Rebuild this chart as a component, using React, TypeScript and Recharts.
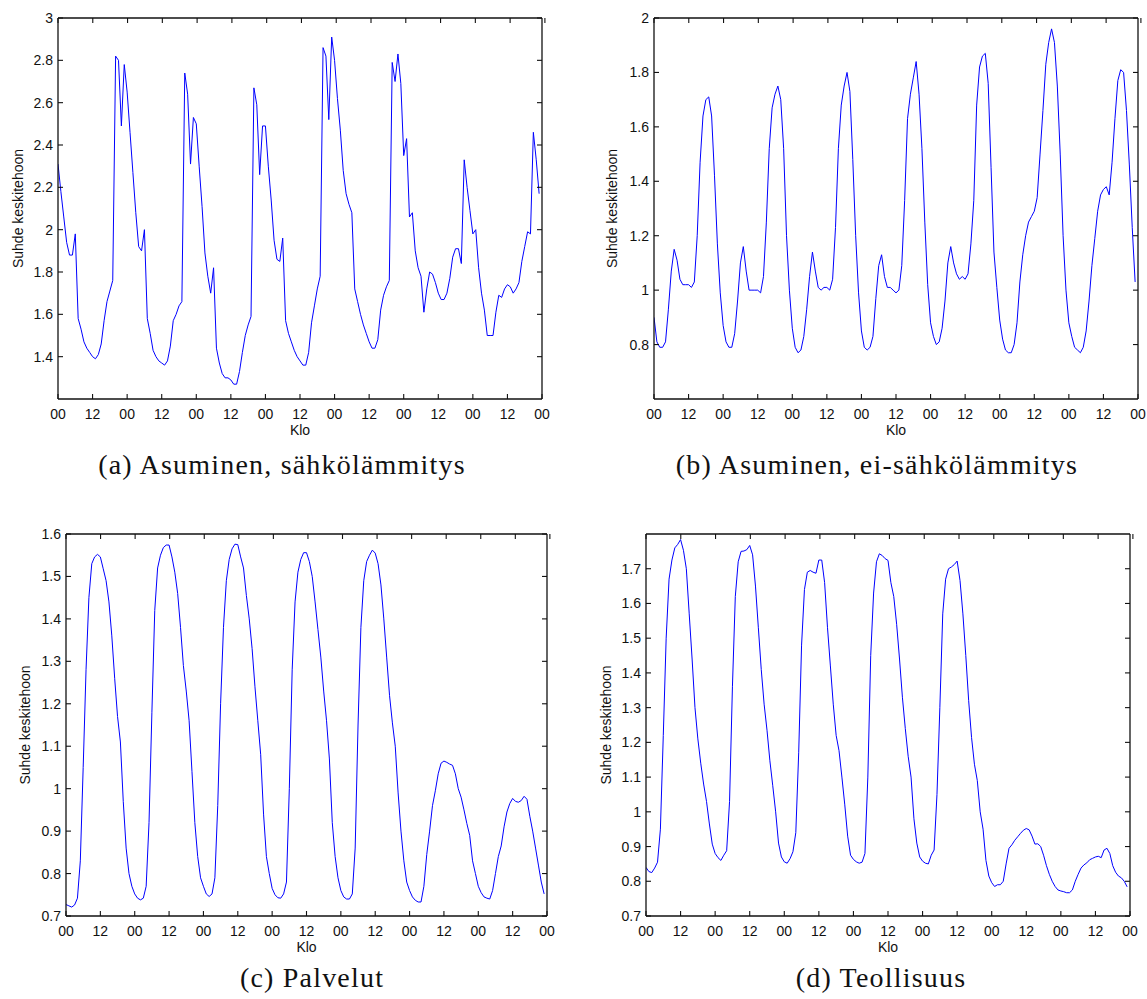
import { LineChart, Line, XAxis, YAxis } from 'recharts';

// hourly load ratio to mean power, one week (168 h) per sector
const aValues = [
  2.31, 2.18, 2.06, 1.94, 1.88, 1.88, 1.98, 1.58, 1.53, 1.47,
  1.44, 1.42, 1.40, 1.39, 1.41, 1.46, 1.57, 1.66, 1.71, 1.76,
  2.82, 2.80, 2.49, 2.78, 2.65, 2.46, 2.27, 2.08, 1.92, 1.90,
  2.00, 1.58, 1.51, 1.43, 1.40, 1.38, 1.37, 1.36, 1.38, 1.45,
  1.57, 1.60, 1.64, 1.66, 2.74, 2.64, 2.31, 2.53, 2.50, 2.30,
  2.11, 1.89, 1.78, 1.70, 1.82, 1.44, 1.37, 1.32, 1.30, 1.30,
  1.29, 1.27, 1.27, 1.33, 1.42, 1.50, 1.55, 1.59, 2.67, 2.59,
  2.26, 2.49, 2.49, 2.30, 2.14, 1.95, 1.86, 1.85, 1.96, 1.57,
  1.51, 1.47, 1.43, 1.40, 1.38, 1.36, 1.36, 1.42, 1.56, 1.64,
  1.72, 1.78, 2.86, 2.82, 2.52, 2.91, 2.80, 2.62, 2.47, 2.28,
  2.17, 2.12, 2.08, 1.72, 1.66, 1.60, 1.55, 1.51, 1.47, 1.44,
  1.44, 1.48, 1.62, 1.69, 1.73, 1.76, 2.79, 2.70, 2.83, 2.69,
  2.35, 2.43, 2.06, 2.08, 1.90, 1.82, 1.78, 1.61, 1.72, 1.80,
  1.79, 1.75, 1.70, 1.67, 1.67, 1.70, 1.77, 1.87, 1.91, 1.91,
  1.84, 2.33, 2.20, 2.09, 1.98, 2.00, 1.82, 1.70, 1.62, 1.50,
  1.50, 1.50, 1.61, 1.69, 1.68, 1.72, 1.74, 1.73, 1.70, 1.72,
  1.75, 1.85, 1.92, 1.99, 1.98, 2.46, 2.33, 2.17,
];

const bValues = [
  0.90, 0.81, 0.79, 0.79, 0.81, 0.93, 1.07, 1.15, 1.11, 1.04,
  1.02, 1.02, 1.02, 1.01, 1.03, 1.20, 1.47, 1.64, 1.70, 1.71,
  1.64, 1.42, 1.17, 0.99, 0.87, 0.81, 0.79, 0.79, 0.84, 0.96,
  1.10, 1.16, 1.07, 1.00, 1.00, 1.00, 1.00, 0.99, 1.05, 1.25,
  1.52, 1.67, 1.72, 1.75, 1.70, 1.52, 1.20, 1.00, 0.86, 0.79,
  0.77, 0.78, 0.83, 0.93, 1.05, 1.14, 1.07, 1.01, 1.00, 1.01,
  1.01, 1.00, 1.04, 1.23, 1.52, 1.68, 1.75, 1.80, 1.73, 1.48,
  1.20, 0.99, 0.85, 0.79, 0.78, 0.79, 0.83, 0.97, 1.09, 1.13,
  1.05, 1.01, 1.01, 1.00, 0.99, 1.00, 1.09, 1.33, 1.63, 1.72,
  1.78, 1.84, 1.72, 1.52, 1.25, 1.02, 0.88, 0.83, 0.80, 0.81,
  0.86, 0.96, 1.10, 1.16, 1.10, 1.06, 1.04, 1.05, 1.04, 1.06,
  1.17, 1.33, 1.68, 1.82, 1.86, 1.87, 1.76, 1.45, 1.14, 1.01,
  0.89, 0.82, 0.78, 0.77, 0.77, 0.80, 0.88, 1.03, 1.13, 1.20,
  1.25, 1.27, 1.29, 1.34, 1.50, 1.66, 1.83, 1.91, 1.96, 1.91,
  1.75, 1.50, 1.20, 1.00, 0.88, 0.83, 0.79, 0.78, 0.77, 0.79,
  0.85, 0.96, 1.09, 1.19, 1.29, 1.35, 1.37, 1.38, 1.35, 1.47,
  1.63, 1.77, 1.81, 1.80, 1.66, 1.46, 1.23, 1.03,
];

const cValues = [
  0.727, 0.724, 0.721, 0.726, 0.742, 0.83, 1.05, 1.28, 1.45, 1.53,
  1.546, 1.552, 1.546, 1.518, 1.49, 1.44, 1.36, 1.26, 1.17, 1.11,
  0.97, 0.86, 0.80, 0.77, 0.752, 0.742, 0.738, 0.742, 0.77, 0.92,
  1.18, 1.42, 1.52, 1.55, 1.568, 1.574, 1.574, 1.546, 1.51, 1.46,
  1.38, 1.29, 1.23, 1.16, 1.04, 0.92, 0.84, 0.79, 0.77, 0.752,
  0.746, 0.752, 0.79, 0.96, 1.20, 1.38, 1.49, 1.54, 1.565, 1.576,
  1.575, 1.546, 1.52, 1.455, 1.40, 1.33, 1.24, 1.16, 1.08, 0.94,
  0.84, 0.80, 0.765, 0.75, 0.743, 0.742, 0.752, 0.78, 1.00, 1.28,
  1.44, 1.51, 1.54, 1.556, 1.556, 1.535, 1.50, 1.44, 1.375, 1.31,
  1.23, 1.16, 1.07, 0.92, 0.84, 0.79, 0.76, 0.745, 0.74, 0.74,
  0.752, 0.86, 1.15, 1.38, 1.49, 1.535, 1.55, 1.562, 1.555, 1.53,
  1.48, 1.40, 1.31, 1.22, 1.155, 1.10, 0.99, 0.90, 0.83, 0.78,
  0.76, 0.745, 0.737, 0.733, 0.733, 0.77, 0.845, 0.90, 0.96, 0.995,
  1.035, 1.06, 1.065, 1.062, 1.058, 1.055, 1.035, 1.00, 0.98, 0.95,
  0.918, 0.89, 0.83, 0.80, 0.77, 0.755, 0.745, 0.742, 0.74, 0.76,
  0.80, 0.84, 0.865, 0.91, 0.945, 0.965, 0.977, 0.97, 0.968, 0.972,
  0.982, 0.975, 0.935, 0.90, 0.86, 0.82, 0.78, 0.752,
];

const dValues = [
  0.84, 0.828, 0.825, 0.838, 0.855, 0.95, 1.22, 1.50, 1.67, 1.725,
  1.76, 1.77, 1.784, 1.753, 1.70, 1.57, 1.44, 1.30, 1.21, 1.14,
  1.08, 1.03, 0.965, 0.907, 0.88, 0.868, 0.86, 0.875, 0.888, 1.03,
  1.36, 1.62, 1.72, 1.75, 1.751, 1.755, 1.767, 1.74, 1.65, 1.53,
  1.41, 1.31, 1.235, 1.147, 1.075, 1.00, 0.91, 0.87, 0.856, 0.852,
  0.865, 0.885, 0.94, 1.17, 1.48, 1.64, 1.69, 1.695, 1.69, 1.687,
  1.725, 1.725, 1.66, 1.53, 1.42, 1.31, 1.22, 1.176, 1.10, 1.02,
  0.93, 0.875, 0.863, 0.856, 0.852, 0.855, 0.88, 1.10, 1.45, 1.63,
  1.72, 1.743, 1.738, 1.729, 1.724, 1.66, 1.62, 1.54, 1.44, 1.33,
  1.24, 1.16, 1.10, 0.98, 0.91, 0.87, 0.858, 0.852, 0.85, 0.875,
  0.89, 1.05, 1.30, 1.57, 1.67, 1.70, 1.705, 1.712, 1.722, 1.666,
  1.57, 1.45, 1.32, 1.214, 1.137, 1.09, 1.00, 0.95, 0.86, 0.815,
  0.796, 0.785, 0.79, 0.79, 0.80, 0.85, 0.895, 0.905, 0.918, 0.928,
  0.938, 0.947, 0.952, 0.948, 0.93, 0.907, 0.908, 0.90, 0.875, 0.845,
  0.82, 0.80, 0.785, 0.775, 0.772, 0.77, 0.767, 0.767, 0.775, 0.80,
  0.82, 0.838, 0.847, 0.853, 0.862, 0.866, 0.87, 0.872, 0.868, 0.89,
  0.895, 0.88, 0.845, 0.826, 0.815, 0.81, 0.80, 0.784,
];

const xTicks = [0, 12, 24, 36, 48, 60, 72, 84, 96, 108, 120, 132, 144, 156, 168];
const xTickLabels = ['00', '12', '00', '12', '00', '12', '00', '12', '00', '12', '00', '12', '00', '12', '00'];

const aYTicks = [1.4, 1.6, 1.8, 2, 2.2, 2.4, 2.6, 2.8, 3];
const bYTicks = [0.8, 1, 1.2, 1.4, 1.6, 1.8, 2];
const cYTicks = [0.7, 0.8, 0.9, 1, 1.1, 1.2, 1.3, 1.4, 1.5, 1.6];
const dYTicks = [0.7, 0.8, 0.9, 1, 1.1, 1.2, 1.3, 1.4, 1.5, 1.6, 1.7];

const FONT = '"Liberation Sans", Arial, Helvetica, sans-serif';
const SERIF = '"Liberation Serif", "Times New Roman", serif';
const AXIS = '#111';
const TICK_LEN = 5;
const tickLineStyle = { stroke: AXIS, strokeWidth: 1.1 };
const axisLineStyle = { stroke: AXIS, strokeWidth: 1.3 };

function BottomLabel(props: any) {
  const { x, y, payload } = props;
  const label = xTickLabels[xTicks.indexOf(payload.value)];
  return (
    <text x={x} y={y + 20} textAnchor="middle" fontSize={14} fontFamily={FONT} fill="#111">
      {label}
    </text>
  );
}

function LeftLabel(props: any) {
  const { x, y, payload } = props;
  return (
    <text x={x - 5} y={y} dy="0.36em" textAnchor="end" fontSize={14} fontFamily={FONT} fill="#111">
      {String(payload.value)}
    </text>
  );
}

function NoLabel() {
  return <g />;
}

interface PanelProps {
  values: number[];
  yDomain: [number, number];
  yTicks: number[];
  left: number;
  top: number;
  width: number;
  height: number;
  plot: { x0: number; y0: number; x1: number; y1: number };
  yLabelX: number;
}

function Panel({ values, yDomain, yTicks, left, top, width, height, plot, yLabelX }: PanelProps) {
  const rows = values.map((v, h) => ({ h, v }));
  const margin = {
    top: plot.y0 - top - 1,
    right: left + width - plot.x1 - 1,
    bottom: top + height - plot.y1 - 36,
    left: 0,
  };
  // negative tick size turns the tick marks inward, tick margin brings the label anchor back to the axis
  return (
    <div style={{ position: 'absolute', left, top }}>
      <LineChart width={width} height={height} data={rows} margin={margin}>
        <XAxis
          xAxisId="b"
          dataKey="h"
          type="number"
          domain={[0, 168]}
          allowDataOverflow
          ticks={xTicks}
          interval={0}
          height={36}
          tickLine={tickLineStyle}
          tickSize={-TICK_LEN}
          tickMargin={TICK_LEN}
          tick={BottomLabel}
          axisLine={axisLineStyle}
          label={{ value: 'Klo', position: 'insideBottom', offset: 0, fill: '#111', fontSize: 14, fontFamily: FONT }}
        />
        <XAxis
          xAxisId="t"
          orientation="top"
          type="number"
          domain={[0, 168]}
          allowDataOverflow
          ticks={xTicks}
          interval={0}
          height={1}
          tickLine={tickLineStyle}
          tickSize={-TICK_LEN}
          tick={NoLabel}
          axisLine={axisLineStyle}
        />
        <YAxis
          yAxisId="l"
          type="number"
          domain={yDomain}
          allowDataOverflow
          ticks={yTicks}
          interval={0}
          width={plot.x0 - left}
          tickLine={tickLineStyle}
          tickSize={-TICK_LEN}
          tickMargin={TICK_LEN}
          tick={LeftLabel}
          axisLine={axisLineStyle}
          label={{
            value: 'Suhde keskitehoon',
            angle: -90,
            position: 'insideLeft',
            offset: yLabelX - left,
            fill: '#111',
            fontSize: 14,
            fontFamily: FONT,
            style: { textAnchor: 'middle' },
          }}
        />
        <YAxis
          yAxisId="r"
          orientation="right"
          type="number"
          domain={yDomain}
          allowDataOverflow
          ticks={yTicks}
          interval={0}
          width={1}
          tickLine={tickLineStyle}
          tickSize={-TICK_LEN}
          tick={NoLabel}
          axisLine={axisLineStyle}
        />
        <Line
          xAxisId="b"
          yAxisId="l"
          type="linear"
          dataKey="v"
          stroke="#0000ff"
          strokeWidth={1}
          dot={false}
          isAnimationActive={false}
        />
      </LineChart>
    </div>
  );
}

function Caption({ text, cx, top }: { text: string; cx: number; top: number }) {
  return (
    <div
      style={{
        position: 'absolute',
        left: cx - 300,
        top,
        width: 600,
        textAlign: 'center',
        fontFamily: SERIF,
        fontSize: 28,
        lineHeight: '30px',
        letterSpacing: 1.2,
        color: '#111',
      }}
    >
      {text}
    </div>
  );
}

export default function App() {
  return (
    <div style={{ position: 'absolute', left: 0, top: 0, width: 1147, height: 999, background: '#fff' }}>
      <Panel
        values={aValues}
        yDomain={[1.2, 3]}
        yTicks={aYTicks}
        left={0}
        top={0}
        width={560}
        height={445}
        plot={{ x0: 58, y0: 18, x1: 542, y1: 399 }}
        yLabelX={18}
      />
      <Panel
        values={bValues}
        yDomain={[0.6, 2]}
        yTicks={bYTicks}
        left={590}
        top={0}
        width={557}
        height={445}
        plot={{ x0: 654, y0: 18, x1: 1138, y1: 399 }}
        yLabelX={612}
      />
      <Panel
        values={cValues}
        yDomain={[0.7, 1.6]}
        yTicks={cYTicks}
        left={0}
        top={500}
        width={560}
        height={460}
        plot={{ x0: 66, y0: 534, x1: 547, y1: 916 }}
        yLabelX={25}
      />
      <Panel
        values={dValues}
        yDomain={[0.7, 1.8]}
        yTicks={dYTicks}
        left={580}
        top={500}
        width={567}
        height={460}
        plot={{ x0: 646, y0: 534, x1: 1130, y1: 916 }}
        yLabelX={606}
      />
      <Caption text="(a) Asuminen, sähkölämmitys" cx={282} top={450} />
      <Caption text="(b) Asuminen, ei-sähkölämmitys" cx={877} top={450} />
      <Caption text="(c) Palvelut" cx={312} top={963} />
      <Caption text="(d) Teollisuus" cx={881} top={963} />
    </div>
  );
}
